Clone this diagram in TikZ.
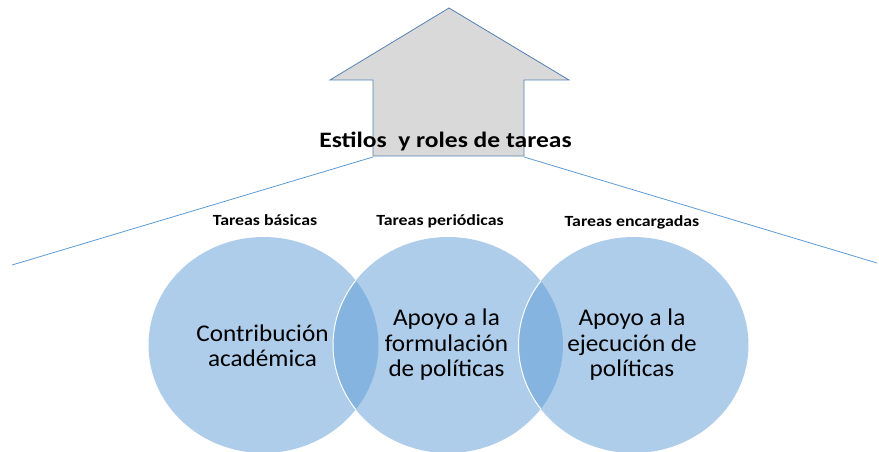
\documentclass[tikz,border=0pt]{standalone}
\usepackage{fontspec}
\setmainfont{Carlito}
\begin{document}
\begin{tikzpicture}[x=1pt,y=-1pt,
  every node/.style={inner sep=0pt, text=black},
  lbl/.style={font=\bfseries\fontsize{15.5}{18}\selectfont, anchor=base},
  ctext/.style={font=\fontsize{24}{25.5}\selectfont, align=center, anchor=center},
  guide/.style={draw={rgb,255:red,91;green,155;blue,213}, line width=0.8pt},
  disc/.style={fill={rgb,255:red,91;green,155;blue,213}, fill opacity=0.5},
  rim/.style={draw=white, line width=1pt}]
\useasboundingbox (0,0) rectangle (879,452);
% arrow
\draw[fill={rgb,255:red,217;green,217;blue,217}, draw={rgb,255:red,84;green,130;blue,180}, line width=0.8pt]
  (449,8) -- (569,80) -- (524,80) -- (524,156) -- (373,156) -- (373,80) -- (330,80) -- cycle;
\coordinate (aL) at (373,157);
\coordinate (aR) at (524,157);
\coordinate (eL) at (12,265);
\coordinate (eR) at (877,263);
\draw[guide] (aL) -- (eL);
\draw[guide] (aR) -- (eR);
\node[font=\bfseries\fontsize{22}{26}\selectfont, anchor=base] (title) at (445.5,147) {\scalebox{1.16}[1]{Estilos\ \ y roles de tareas}};
% circles
\fill[disc] (263.5,345) ellipse [x radius=115, y radius=108];
\fill[disc] (448,345) ellipse [x radius=115, y radius=108];
\fill[disc] (633.5,345) ellipse [x radius=115, y radius=108];
\begin{scope}
\clip (263.5,345) ellipse [x radius=115, y radius=108];
\draw[rim] (448,345) ellipse [x radius=115, y radius=108];
\end{scope}
\begin{scope}
\clip (448,345) ellipse [x radius=115, y radius=108];
\draw[rim] (633.5,345) ellipse [x radius=115, y radius=108];
\end{scope}
\node[lbl] (l1) at (265,225) {\scalebox{1.15}[1]{Tareas básicas}};
\node[lbl] (l2) at (440,225) {\scalebox{1.15}[1]{Tareas periódicas}};
\node[lbl] (l3) at (632,226) {\scalebox{1.15}[1]{Tareas encargadas}};
\node[ctext] (c1) at (262.5,346) {\scalebox{1.05}[1]{Contribución}\\\scalebox{1.05}[1]{académica}};
\node[ctext] (c2) at (446.5,345) {\scalebox{1.05}[1]{Apoyo a la}\\\scalebox{1.05}[1]{formulación}\\\scalebox{1.05}[1]{de políticas}};
\node[ctext] (c3) at (632,345) {\scalebox{1.05}[1]{Apoyo a la}\\\scalebox{1.05}[1]{ejecución de}\\\scalebox{1.05}[1]{políticas}};
\end{tikzpicture}
\end{document}
